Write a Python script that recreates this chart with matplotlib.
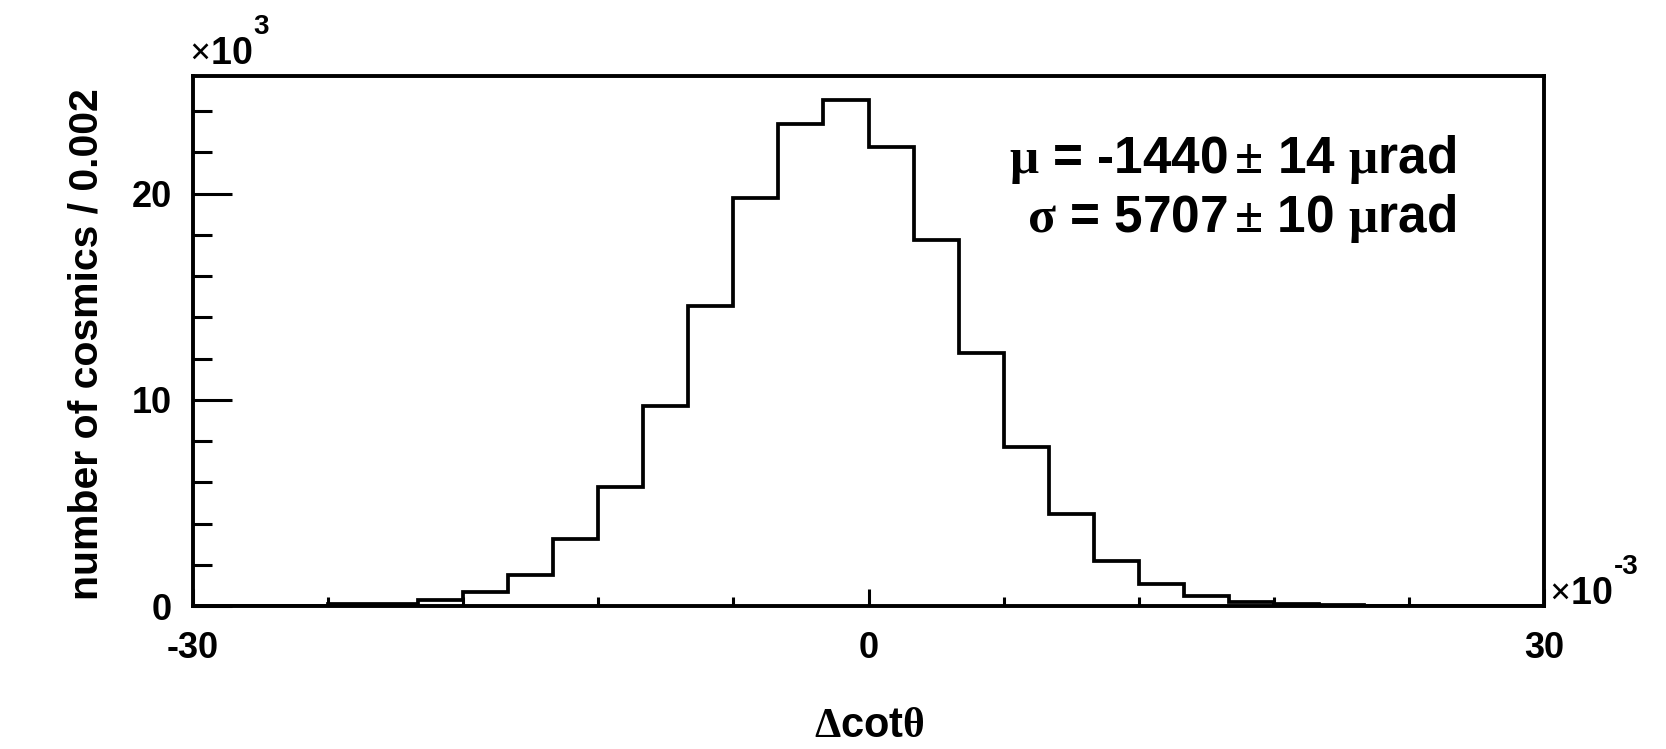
import numpy as np
import matplotlib
matplotlib.use("Agg")
import matplotlib.pyplot as plt

# ---- data (x in units of 1e-3, counts in units of 1e3) ----
bin_edges = list(range(-30, 31, 2))
counts = [0.0, 0.0, 0.02, 0.08, 0.12, 0.30, 0.67, 1.52, 3.23, 5.75, 9.70,
          14.55, 19.77, 23.36, 24.53, 22.27, 17.74, 12.28, 7.72, 4.46, 2.20,
          1.08, 0.50, 0.17, 0.08, 0.05, 0.0, 0.0, 0.0, 0.0]
x_major = [-30, 0, 30]
x_minor = list(range(-30, 31, 6))
y_major = [0, 10, 20]
y_minor = list(range(0, 26, 2))
x_label = r"$\mathrm{\Delta}$cot$\mathrm{\theta}$"
y_label = "number of cosmics / 0.002"
stat_lines = [r"$\mathrm{\mu}$ = -1440$\,\mathrm{\pm}$ 14 $\mathrm{\mu}$rad",
              r"$\mathrm{\sigma}$ = 5707$\,\mathrm{\pm}$ 10 $\mathrm{\mu}$rad"]

plt.rcParams['font.family'] = ['Liberation Sans', 'DejaVu Sans']
plt.rcParams['font.weight'] = 'bold'
plt.rcParams['mathtext.fontset'] = 'custom'
plt.rcParams['mathtext.rm'] = 'Liberation Serif'
plt.rcParams['mathtext.it'] = 'Liberation Serif:italic'
plt.rcParams['mathtext.bf'] = 'Liberation Sans:bold'

W, H = 1666, 749
fig = plt.figure(figsize=(W / 100, H / 100), dpi=100)
ax = fig.add_axes([193 / W, 1 - 606 / H, (1544 - 193) / W, (606 - 76) / H])

ax.stairs(counts, bin_edges, color='black', linewidth=2.7)

ax.set_xlim(-30, 30)
ax.set_ylim(0, 25.7)
for s in ax.spines.values():
    s.set_linewidth(2.8)
    s.set_color('black')

ax.set_xticks(x_major)
ax.set_xticks(x_minor, minor=True)
ax.set_yticks(y_major)
ax.set_yticks(y_minor, minor=True)
ax.set_xticklabels([str(v) for v in x_major])
ax.set_yticklabels([str(v) for v in y_major])

ax.tick_params(axis='x', which='major', direction='in', length=12, width=2.2,
               pad=18, labelsize=26, top=False)
ax.tick_params(axis='x', which='minor', direction='in', length=6.5, width=2.2,
               top=False)
ax.tick_params(axis='y', which='major', direction='in', length=28, width=2.2,
               pad=15, labelsize=26, right=False)
ax.tick_params(axis='y', which='minor', direction='in', length=14, width=2.2,
               right=False)
for lab in ax.get_xticklabels() + ax.get_yticklabels():
    lab.set_fontweight('bold')

# stats text
ax.text(0.935, 0.817, stat_lines[0], transform=ax.transAxes, ha='right',
        va='baseline', fontsize=37, fontweight='bold')
ax.text(0.935, 0.706, stat_lines[1], transform=ax.transAxes, ha='right',
        va='baseline', fontsize=37, fontweight='bold')

# axis labels
fig.text(87 / W, 1 - 344 / H, y_label, rotation=90, ha='center', va='center',
         fontsize=29.5, fontweight='bold')
fig.text(869 / W, 1 - 726 / H, x_label, ha='center', va='center',
         fontsize=30, fontweight='bold')

# exponent labels: base "x10" then superscript placed just after it
def exponent_label(x_px, base_px, sup, sup_rise):
    base = fig.text(x_px / W, 1 - base_px / H, r"$\mathrm{\times}$10",
                    ha='left', va='baseline', fontsize=27, fontweight='bold')
    fig.canvas.draw()
    bb = base.get_window_extent()
    fig.text((bb.x1 + 1) / W, 1 - (base_px - sup_rise) / H, sup, ha='left',
             va='baseline', fontsize=20, fontweight='bold')

exponent_label(189, 64, "3", 30)
exponent_label(1549, 604, "-3", 30)

fig.savefig("out.png", dpi=100, facecolor='white')
